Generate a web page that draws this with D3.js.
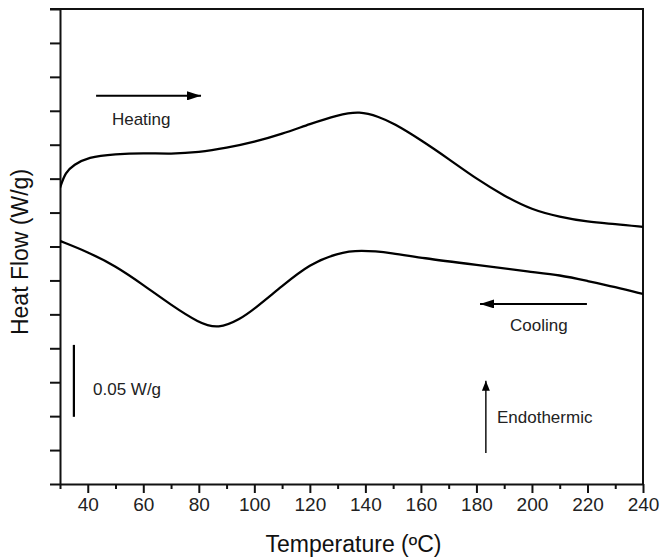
<!DOCTYPE html>
<html>
<head>
<meta charset="utf-8">
<script src="https://cdn.jsdelivr.net/npm/d3@7"></script>
<style>
  body { margin: 0; background: #fff; }
  svg { display: block; font-family: "Liberation Sans", Arial, sans-serif; }
</style>
</head>
<body>
<svg id="chart" width="664" height="559"></svg>
<script>
// ---- data (temperature in °C, heat flow in W/g, arbitrary offset) ----
const heatingT = [30, 32, 35, 40, 50, 60, 70, 80, 90, 100, 110, 120, 130, 138, 145, 150, 160, 170, 180, 190, 200, 210, 220, 230, 240];
const heatingQ = [0.2182, 0.2299, 0.2351, 0.2410, 0.2432, 0.2439, 0.2432, 0.2443, 0.2476, 0.2520, 0.2579, 0.2653, 0.2719, 0.2748, 0.2704, 0.2660, 0.2535, 0.2395, 0.2248, 0.2123, 0.2020, 0.1968, 0.1931, 0.1916, 0.1894];
const coolingT = [30, 40, 50, 60, 70, 80, 87, 95, 100, 110, 120, 130, 138, 150, 160, 180, 200, 210, 220, 230, 240];
const coolingQ = [0.1791, 0.1710, 0.1607, 0.1467, 0.1319, 0.1187, 0.1142, 0.1216, 0.1290, 0.1459, 0.1621, 0.1702, 0.1725, 0.1702, 0.1666, 0.1614, 0.1562, 0.1540, 0.1496, 0.1452, 0.1400];
const xMajorTicks = [40, 60, 80, 100, 120, 140, 160, 180, 200, 220, 240];
const xMinorTicks = [30, 50, 70, 90, 110, 130, 150, 170, 190, 210, 230];
const yTicks = d3.range(0, 0.3501, 0.025);
const xDomain = [30, 240];
const yDomain = [0, 0.35];
const scaleBarQ = [0.0495, 0.1025];
const xLabel = "Temperature (ºC)";
const yLabel = "Heat Flow (W/g)";

// ---- layout ----
const W = 664, H = 559;
const m = {left: 60, right: 21, top: 9, bottom: 75};
const svg = d3.select("#chart");
const x = d3.scaleLinear().domain(xDomain).range([m.left, W - m.right]);
const y = d3.scaleLinear().domain(yDomain).range([H - m.bottom, m.top]);

const defs = svg.append("defs");
function marker(id, len, half) {
  defs.append("marker").attr("id", id)
    .attr("viewBox", `0 ${-half} ${len} ${2*half}`)
    .attr("refX", len).attr("refY", 0)
    .attr("markerWidth", len).attr("markerHeight", 2*half)
    .attr("markerUnits", "userSpaceOnUse")
    .attr("orient", "auto")
    .append("path").attr("d", `M0,${-half}L${len},0L0,${half}Z`).attr("fill", "#000");
}
marker("ah", 14, 4.5);
marker("ahs", 10, 4);

// frame (top, right)
svg.append("path")
  .attr("d", `M${m.left - 10},${y(yDomain[1])}H${x(xDomain[1])}V${y(yDomain[0])}`)
  .attr("fill", "none").attr("stroke", "#111").attr("stroke-width", 2);

// y axis
const yAxis = svg.append("g").attr("transform", `translate(${m.left},0)`)
  .call(d3.axisLeft(y).tickValues(yTicks).tickFormat("").tickSize(10).tickSizeOuter(0));
yAxis.selectAll("path,line").attr("stroke", "#111").attr("stroke-width", 2);

// x axis
const xAxis = svg.append("g").attr("transform", `translate(0,${y(yDomain[0])})`)
  .call(d3.axisBottom(x).tickValues(xMajorTicks).tickFormat(d3.format("d")).tickSize(9).tickSizeOuter(0).tickPadding(5));
xAxis.selectAll("path,line").attr("stroke", "#111").attr("stroke-width", 2);
xAxis.selectAll("text").attr("font-size", 19).attr("fill", "#222").attr("font-family", "Liberation Sans, Arial, sans-serif");
const xMinor = svg.append("g").attr("transform", `translate(0,${y(yDomain[0])})`)
  .call(d3.axisBottom(x).tickValues(xMinorTicks).tickFormat("").tickSize(5).tickSizeOuter(0));
xMinor.select("path").remove();
xMinor.selectAll("line").attr("stroke", "#111").attr("stroke-width", 2);

// axis labels
svg.append("text").attr("x", (x(xDomain[0]) + x(xDomain[1])) / 2 + 2).attr("y", 552)
  .attr("text-anchor", "middle").attr("font-size", 23).attr("fill", "#111").text(xLabel);
svg.append("text").attr("transform", `translate(28,${252}) rotate(-90)`)
  .attr("text-anchor", "middle").attr("font-size", 23).attr("fill", "#111").text(yLabel);

// curves
const line = d3.line().x(d => x(d[0])).y(d => y(d[1])).curve(d3.curveBasis);
const clip = defs.append("clipPath").attr("id", "clip");
clip.append("rect").attr("x", m.left).attr("y", m.top).attr("width", W - m.left - m.right).attr("height", H - m.top - m.bottom);
svg.append("path").datum(d3.zip(heatingT, heatingQ)).attr("d", line)
  .attr("fill", "none").attr("stroke", "#000").attr("stroke-width", 2.3).attr("clip-path", "url(#clip)");
svg.append("path").datum(d3.zip(coolingT, coolingQ)).attr("d", line)
  .attr("fill", "none").attr("stroke", "#000").attr("stroke-width", 2.3).attr("clip-path", "url(#clip)");

// annotations
function arrow(x1, y1, x2, y2, w, mk) {
  svg.append("line").attr("x1", x(x1)).attr("y1", y(y1)).attr("x2", x(x2)).attr("y2", y(y2))
    .attr("stroke", "#000").attr("stroke-width", w).attr("marker-end", `url(#${mk})`);
}
arrow(43.0, 0.286, 80.8, 0.286, 2, "ah");
arrow(219.8, 0.1327, 181.3, 0.1327, 2, "ah");
arrow(183.4, 0.0229, 183.4, 0.0760, 1.4, "ahs");

function label(tx, ty, s) {
  svg.append("text").attr("x", x(tx)).attr("y", y(ty)).attr("font-size", 17).attr("fill", "#222").text(s);
}
label(48.7, 0.2646, "Heating");
label(192.1, 0.1128, "Cooling");
label(187.4, 0.0450, "Endothermic");
label(41.9, 0.0656, "0.05 W/g");

// scale bar
svg.append("line").attr("x1", x(35.0)).attr("x2", x(35.0))
  .attr("y1", y(scaleBarQ[0])).attr("y2", y(scaleBarQ[1]))
  .attr("stroke", "#000").attr("stroke-width", 2.2);
</script>
</body>
</html>
